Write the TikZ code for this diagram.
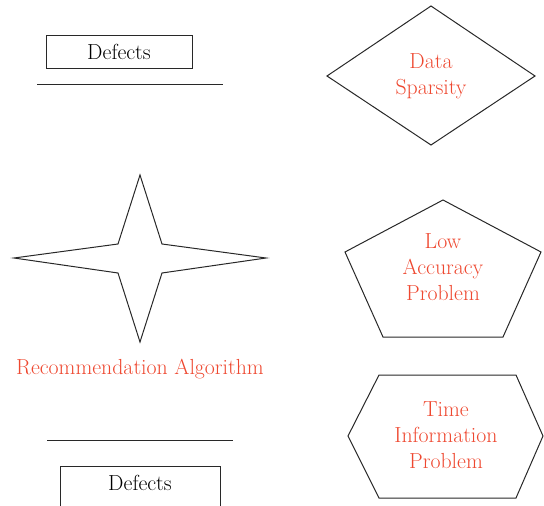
\documentclass[tikz,border=0pt]{standalone}
\usepackage{xcolor}
\definecolor{labelred}{RGB}{238,72,48}
\definecolor{edge}{RGB}{40,40,40}
\begin{document}
\begin{tikzpicture}[x=1pt,y=-1pt,
  every node/.style={font=\fontsize{21.8}{26}\selectfont},
  outline/.style={draw=edge,line width=1pt,line join=miter},
  boxlabel/.style={outline,inner sep=0pt,text=black},
  redlabel/.style={text=labelred,align=center,inner sep=0pt}]
\useasboundingbox (0,0) rectangle (544,506);
\clip (0,0) rectangle (544,506);

% top-left: defects box with a rule below it
\node[boxlabel,minimum width=146pt,minimum height=33pt] (deftop) at (119,51.5) {Defects};
\coordinate (ruleTopL) at (37,84);
\coordinate (ruleTopR) at (223,84);
\draw[outline] (ruleTopL) -- (ruleTopR);

% diamond: data sparsity
\draw[outline] (431,6) -- (535,76) -- (431,145) -- (327,76) -- cycle;
\node[redlabel] (sparsity) at (431,76) {Data\\Sparsity};

% four-pointed star with its caption
\draw[outline] (140,175) -- (162,244) -- (266,258) -- (162,273) -- (140,342)
  -- (118,273) -- (14,258) -- (118,244) -- cycle;
\node[redlabel] (algo) at (140,369) {Recommendation Algorithm};

% pentagon: low accuracy
\draw[outline] (443,200) -- (541,252) -- (503,337) -- (383,337) -- (345,252) -- cycle;
\node[redlabel] (accuracy) at (443,267) {Low\\Accuracy\\Problem};

% hexagon: time information
\draw[outline] (379,375) -- (516,375) -- (543,436) -- (516,498) -- (379,498) -- (348,436) -- cycle;
\node[redlabel] (timeinfo) at (446,435) {Time\\Information\\Problem};

% bottom-left: rule with a defects box below it
\coordinate (ruleBotL) at (47,440);
\coordinate (ruleBotR) at (233,440);
\draw[outline] (ruleBotL) -- (ruleBotR);
\node[boxlabel,minimum width=160pt,minimum height=60pt,anchor=north,text depth=40pt,text height=24pt] (defbot) at (140,466) {Defects};
\end{tikzpicture}
\end{document}
